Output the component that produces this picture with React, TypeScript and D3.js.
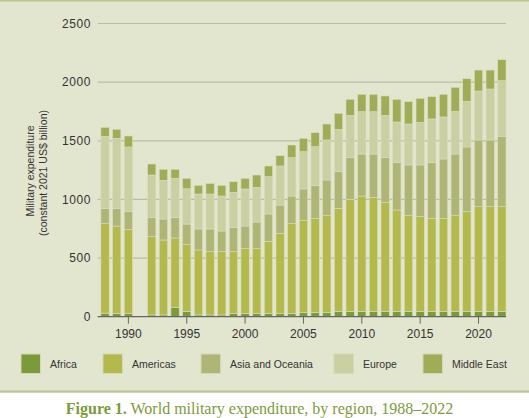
import React from "react";
import * as d3 from "d3";

const years = [1988, 1989, 1990, 1992, 1993, 1994, 1995, 1996, 1997, 1998, 1999, 2000, 2001, 2002, 2003, 2004, 2005, 2006, 2007, 2008, 2009, 2010, 2011, 2012, 2013, 2014, 2015, 2016, 2017, 2018, 2019, 2020, 2021, 2022];
const axisYears = [1988, 1989, 1990, 1991, 1992, 1993, 1994, 1995, 1996, 1997, 1998, 1999, 2000, 2001, 2002, 2003, 2004, 2005, 2006, 2007, 2008, 2009, 2010, 2011, 2012, 2013, 2014, 2015, 2016, 2017, 2018, 2019, 2020, 2021, 2022];
const africa = [30, 29, 29, 15, 15, 77, 46, 15, 15, 15, 29, 29, 29, 29, 29, 29, 34, 34, 34, 46, 46, 46, 46, 46, 46, 46, 46, 46, 46, 46, 46, 46, 46, 46];
const americas = [763, 744, 716, 667, 639, 594, 568, 554, 539, 539, 525, 551, 551, 614, 682, 764, 785, 802, 827, 878, 955, 983, 972, 926, 864, 815, 807, 790, 790, 815, 849, 892, 892, 892];
const asiaOceania = [131, 151, 150, 165, 179, 176, 176, 179, 194, 177, 208, 193, 227, 233, 241, 236, 270, 281, 305, 312, 358, 358, 369, 387, 403, 433, 441, 477, 509, 526, 552, 569, 569, 597];
const europe = [614, 597, 552, 361, 330, 333, 301, 298, 298, 298, 299, 316, 296, 318, 333, 327, 318, 333, 341, 362, 358, 361, 361, 358, 347, 349, 363, 373, 358, 364, 390, 417, 434, 477];
const middleEast = [77, 77, 94, 94, 94, 77, 89, 74, 91, 91, 90, 91, 105, 91, 88, 108, 114, 119, 136, 136, 137, 148, 148, 165, 194, 191, 205, 190, 193, 205, 192, 179, 162, 179];
const regions = ["Africa", "Americas", "Asia and Oceania", "Europe", "Middle East"];
const colors = ["#7b9a3a", "#b3b94b", "#afb675", "#cbd0a3", "#a1ac56"];
const yTicks = [0, 500, 1000, 1500, 2000, 2500];
const xTicks = [1990, 1995, 2000, 2005, 2010, 2015, 2020];

const W = 529;
const H = 418;

export default function App() {
  const series = [africa, americas, asiaOceania, europe, middleEast];
  const rows = years.map((yr, i) => {
    const r: any = { year: yr };
    regions.forEach((k, j) => (r[k] = series[j][i]));
    return r;
  });
  const stack = d3.stack().keys(regions)(rows);
  const x = d3
    .scaleBand<number>()
    .domain(axisYears)
    .range([99.2, 507.7])
    .paddingInner(0.29)
    .paddingOuter(0.145);
  const y = d3.scaleLinear().domain([0, 2500]).range([316.7, 23.5]);
  const xc = (yr: number) => (x(yr) as number) + x.bandwidth() / 2;
  const gx0 = 97.7;
  const gx1 = 506;
  const sans = "'Liberation Sans', Arial, sans-serif";
  const legendX = [21, 103, 201, 334, 423];

  return (
    <svg width={W} height={H} style={{ display: "block" }}>
      <style>{`body{margin:0}`}</style>
      <rect x={0} y={0} width={W} height={H} fill="#ffffff" />
      <rect x={0} y={0} width={W} height={392} fill="#e3e6cf" />
      <rect x={0} y={0} width={W} height={1.5} fill="#b9c691" />
      <rect x={0} y={390.5} width={W} height={2.2} fill="#b9c691" />
      {yTicks.slice(1).map((t) => (
        <line key={t} x1={gx0} x2={gx1} y1={y(t)} y2={y(t)} stroke="#babda3" strokeWidth={1.2} />
      ))}
      {yTicks.map((t) => (
        <text key={t} x={91} y={y(t)} dy="0.35em" textAnchor="end" fontFamily={sans} fontSize={12} fill="#333" letterSpacing={0.6}>
          {t}
        </text>
      ))}
      {stack.map((s, si) => (
        <g key={si} fill={colors[si]}>
          {s.map((d: any, i: number) => (
            <rect
              key={i}
              x={x(d.data.year)}
              width={x.bandwidth()}
              y={y(d[1])}
              height={y(d[0]) - y(d[1])}
              stroke="#d9ddbf"
              strokeWidth={0.6}
            />
          ))}
        </g>
      ))}
      <line x1={gx0} x2={gx1} y1={y(0)} y2={y(0)} stroke="#666" strokeWidth={1.2} />
      {xTicks.map((t) => (
        <g key={t}>
          <line x1={xc(t)} x2={xc(t)} y1={y(0)} y2={y(0) + 7} stroke="#666" strokeWidth={1} />
          <text x={xc(t)} y={333.5} dy="0.35em" textAnchor="middle" fontFamily={sans} fontSize={12} fill="#333">
            {t}
          </text>
        </g>
      ))}
      <text transform="translate(30,171) rotate(-90)" textAnchor="middle" fontFamily={sans} fontSize={10.5} fill="#333" dy="0.35em">
        Military expenditure
      </text>
      <text transform="translate(43.5,173) rotate(-90)" textAnchor="middle" fontFamily={sans} fontSize={10.5} fill="#333" dy="0.35em">
        (constant 2021 US$ billion)
      </text>
      {regions.map((r, i) => (
        <g key={r}>
          <rect x={legendX[i]} y={354} width={19.5} height={19.5} fill={colors[i]} stroke="#d3d8b6" strokeWidth={1} />
          <text x={legendX[i] + 29} y={364.5} dy="0.35em" fontFamily={sans} fontSize={10.5} fill="#333">
            {r}
          </text>
        </g>
      ))}
      <text x={259.5} y={408} dy="0.35em" textAnchor="middle" fontFamily="'Liberation Serif', 'DejaVu Serif', serif" fontSize={16} fill="#7d9a3c">
        <tspan fontWeight="bold">Figure 1.</tspan>
        <tspan> World military expenditure, by region, 1988–2022</tspan>
      </text>
    </svg>
  );
}
